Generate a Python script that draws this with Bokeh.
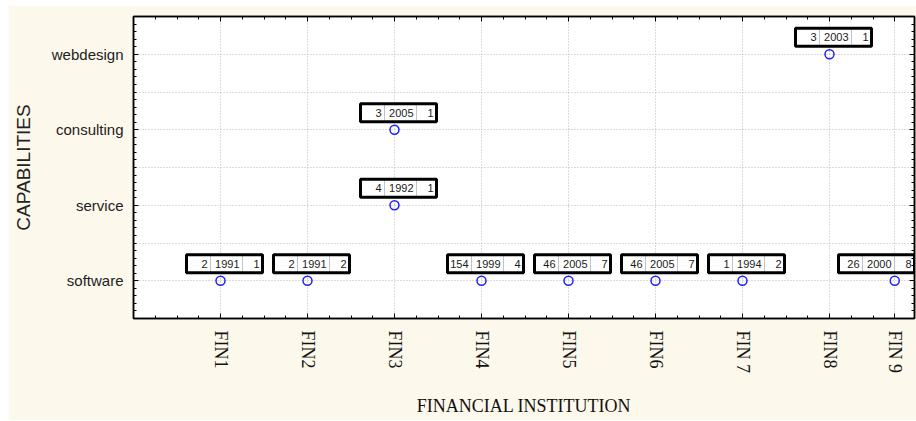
import numpy as np
from bokeh.plotting import figure
from bokeh.models import Range1d, FixedTicker, LinearAxis
from bokeh.embed import file_html
from bokeh.resources import INLINE
from bokeh.core.properties import value

# ---- data ----
capabilities = ["software", "service", "consulting", "webdesign"]
inst_labels = ["FIN1", "FIN2", "FIN3", "FIN4", "FIN5", "FIN6", "FIN 7", "FIN8", "FIN 9"]
inst_pos = [1, 2, 3, 4, 5, 6, 7, 8, 8.75]

pt_inst = ["FIN1", "FIN2", "FIN3", "FIN3", "FIN4", "FIN5", "FIN6", "FIN 7", "FIN8", "FIN 9"]
pt_cap = ["software", "software", "consulting", "service", "software", "software",
          "software", "software", "webdesign", "software"]
lab_count = [2, 2, 3, 4, 154, 46, 46, 1, 3, 26]
lab_year = [1991, 1991, 2005, 1992, 1999, 2005, 2005, 1994, 2003, 2000]
lab_rank = [1, 2, 1, 1, 4, 7, 7, 2, 1, 8]

# ---- layout constants ----
W, H = 908, 415
MB_L, MB_R, MB_T, MB_B = 125, 2, 11, 102
FRAME_W, FRAME_H = W - MB_L - MB_R, H - MB_T - MB_B
PX_X = 87.0
X_END = FRAME_W / PX_X
Y0, Y1 = 0.5, 4.5
PX_Y = FRAME_H / (Y1 - Y0)

BG = "#fdf8ec"

p = figure(width=W, height=H, x_range=Range1d(0, X_END), y_range=Range1d(Y0, Y1),
           output_backend="svg", toolbar_location=None,
           min_border_left=MB_L, min_border_right=MB_R, min_border_top=MB_T, min_border_bottom=MB_B,
           background_fill_color="white", border_fill_color=BG,
           outline_line_color="black", outline_line_width=1.5)
p.margin = (5, 0, 1, 8)

x_minor = [float(v) for v in np.arange(0, 9.01, 0.25)]
y_minor = [round(float(v), 2) for v in np.arange(0.5, 4.51, 0.1)]

# x axis
xa = p.xaxis[0]
xa.ticker = FixedTicker(ticks=inst_pos, minor_ticks=x_minor)
xa.major_label_overrides = {pos: lab for pos, lab in zip(inst_pos, inst_labels)}
xa.major_label_orientation = "vertical"
xa.major_label_text_font = "Liberation Serif"
xa.major_label_text_font_size = "18px"
xa.major_label_text_color = "#111111"
xa.major_label_standoff = 12
xa.axis_label = "FINANCIAL INSTITUTION"
xa.axis_label_text_font = "Liberation Serif"
xa.axis_label_text_font_size = "18px"
xa.axis_label_text_font_style = "normal"
xa.axis_label_text_color = "#111111"
xa.axis_label_standoff = 20

# y axis
ya = p.yaxis[0]
ya.ticker = FixedTicker(ticks=[1, 2, 3, 4], minor_ticks=y_minor)
ya.major_label_overrides = {i + 1: c for i, c in enumerate(capabilities)}
ya.major_label_text_font = "Liberation Sans"
ya.major_label_text_font_size = "15px"
ya.major_label_text_color = "#222222"
ya.major_label_standoff = 10
ya.axis_label = "CAPABILITIES"
ya.axis_label_text_font = "Liberation Sans"
ya.axis_label_text_font_size = "19px"
ya.axis_label_text_font_style = "normal"
ya.axis_label_text_color = "#222222"
ya.axis_label_standoff = 15

for ax in (xa, ya):
    ax.axis_line_width = 1.5
    ax.axis_line_color = "black"
    ax.major_tick_in = 5
    ax.major_tick_out = 0
    ax.minor_tick_in = 3
    ax.minor_tick_out = 0
    ax.major_tick_line_color = "black"
    ax.minor_tick_line_color = "black"

# mirrored axes (ticks only)
top = LinearAxis(ticker=FixedTicker(ticks=inst_pos, minor_ticks=x_minor))
right = LinearAxis(ticker=FixedTicker(ticks=[1, 2, 3, 4], minor_ticks=y_minor))
for ax in (top, right):
    ax.major_label_text_font_size = "0px"
    ax.major_label_text_alpha = 0
    ax.major_label_standoff = 0
    ax.axis_line_width = 1.5
    ax.major_tick_in = 5
    ax.major_tick_out = 0
    ax.minor_tick_in = 3
    ax.minor_tick_out = 0
p.add_layout(top, "above")
p.add_layout(right, "right")

# grids
p.xgrid.ticker = FixedTicker(ticks=inst_pos)
p.ygrid.ticker = FixedTicker(ticks=[1, 1.5, 2, 2.5, 3, 3.5, 4])
for g in (p.xgrid[0], p.ygrid[0]):
    g.grid_line_color = "#b8b8b8"
    g.grid_line_dash = "1 2"
    g.grid_line_width = 1

# ---- points ----
px = [inst_pos[inst_labels.index(i)] for i in pt_inst]
py = [capabilities.index(c) + 1 for c in pt_cap]

# ---- label boxes ----
BOX_W, BOX_H = 76, 18
CELLS = [24, 32, 20]
DX, DY = 4, 17  # offsets in px of box centre from point

cx = [min(x + DX / PX_X, X_END - (BOX_W / 2) / PX_X) for x in px]
cy = [y + DY / PX_Y for y in py]

texts = [[str(v) for v in lab_count], [str(v) for v in lab_year], [str(v) for v in lab_rank]]
left_edge = -BOX_W / 2
for k, cw in enumerate(CELLS):
    cell_c = [c + (left_edge + cw / 2) / PX_X for c in cx]
    cell_r = [c + (left_edge + cw) / PX_X for c in cx]
    p.rect(x=cell_c, y=cy, width=cw, height=BOX_H, width_units="screen", height_units="screen",
           fill_color="white", line_color="#c4c4c4", line_width=1)
    p.text(x=cell_r, y=cy, text=texts[k], x_offset=-3, text_align="right", text_baseline="middle",
           text_font=value("Liberation Sans"), text_font_size="11px", text_color="#1a1a1a")
    left_edge += cw

p.rect(x=cx, y=cy, width=BOX_W, height=BOX_H, width_units="screen", height_units="screen",
       fill_color=None, line_color="black", line_width=3)

p.scatter(px, py, marker="circle", size=9, fill_color=None, line_color="#2020ff", line_width=1.5)

open("out.html", "w").write(file_html(p, INLINE))
